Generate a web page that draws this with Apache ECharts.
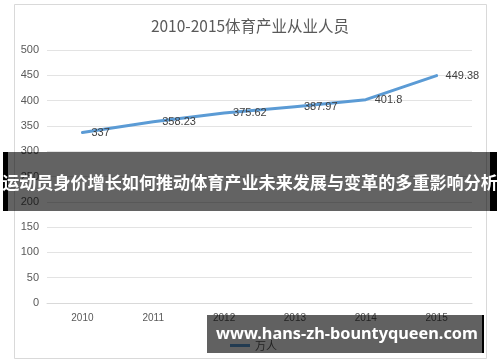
<!DOCTYPE html>
<html>
<head>
<meta charset="utf-8">
<script src="https://cdn.jsdelivr.net/npm/echarts@6/dist/echarts.min.js"></script>
<style>
  html, body { margin: 0; padding: 0; background: #ffffff; }
  #chart { width: 500px; height: 362px; }
</style>
</head>
<body>
<div id="chart"></div>
<script>
// Sports industry employment, 2010-2015 (unit: 万人)
const titleText = '2010-2015体育产业从业人员';
const years = ['2010', '2011', '2012', '2013', '2014', '2015'];
const employees = [337, 358.23, 375.62, 387.97, 401.8, 449.38];
const seriesName = '万人';
const bannerText = '运动员身价增长如何推动体育产业未来发展与变革的多重影响分析';
const siteText = 'www.hans-zh-bountyqueen.com';

const cjk = '"Noto Sans CJK SC", "Noto Sans", sans-serif';

const chart = echarts.init(document.getElementById('chart'), null, { renderer: 'canvas' });

chart.setOption({
  backgroundColor: '#ffffff',
  animation: false,
  title: {
    text: titleText,
    left: 'center',
    top: 13,
    textStyle: { fontFamily: cjk, fontSize: 15.5, fontWeight: 'normal', color: '#595959' }
  },
  legend: {
    left: 225,
    top: 335,
    itemWidth: 20,
    itemHeight: 3,
    icon: 'rect',
    textStyle: { fontFamily: cjk, fontSize: 11, color: '#595959' },
    data: [seriesName]
  },
  grid: { left: 47, right: 28, top: 50, bottom: 59 },
  xAxis: {
    type: 'category',
    data: years,
    boundaryGap: true,
    axisLine: { show: true, lineStyle: { color: '#d9d9d9' } },
    axisTick: { show: false },
    axisLabel: { color: '#595959', fontSize: 10, fontFamily: 'Liberation Sans, Arial, sans-serif', margin: 10 }
  },
  yAxis: {
    type: 'value',
    min: 0,
    max: 500,
    interval: 50,
    axisLine: { show: false },
    axisTick: { show: false },
    axisLabel: { color: '#595959', fontSize: 11, fontFamily: 'Liberation Sans, Arial, sans-serif', margin: 8 },
    splitLine: { lineStyle: { color: '#e3e3e3', width: 1 } }
  },
  series: [{
    name: seriesName,
    type: 'line',
    data: employees,
    showSymbol: true,
    symbol: 'circle',
    symbolSize: 0,
    lineStyle: { color: '#5b9bd5', width: 3, cap: 'round', join: 'round' },
    itemStyle: { color: '#5b9bd5' },
    label: {
      show: true,
      position: 'right',
      distance: 9,
      color: '#404040',
      fontSize: 11,
      fontFamily: 'Liberation Sans, Arial, sans-serif'
    }
  }],
  graphic: [
    // outer chart frame
    {
      type: 'rect', z: -1, silent: true,
      shape: { x: 14.5, y: 4.5, width: 472, height: 354 },
      style: { fill: 'none', stroke: '#d9d9d9', lineWidth: 1 }
    },
    // dark banner across the middle
    {
      type: 'rect', z: 100, silent: true,
      shape: { x: 3, y: 152, width: 494, height: 59 },
      style: { fill: 'rgba(0,0,0,0.61)' }
    },
    {
      type: 'rect', z: 101, silent: true,
      shape: { x: 3, y: 152, width: 5, height: 59 },
      style: { fill: '#000000' }
    },
    {
      type: 'rect', z: 101, silent: true,
      shape: { x: 490, y: 152, width: 7, height: 59 },
      style: { fill: '#000000' }
    },
    {
      type: 'text', z: 102, silent: true,
      x: 250, y: 182,
      style: {
        text: bannerText,
        fill: '#ffffff',
        font: 'bold 17.1px ' + cjk,
        align: 'center',
        verticalAlign: 'middle'
      }
    },
    // site box at lower right
    {
      type: 'rect', z: 100, silent: true,
      shape: { x: 207, y: 315, width: 275, height: 38 },
      style: { fill: 'rgba(0,0,0,0.62)' }
    },
    {
      type: 'rect', z: 101, silent: true,
      shape: { x: 482, y: 315, width: 2, height: 38 },
      style: { fill: '#000000' }
    },
    {
      type: 'text', z: 102, silent: true,
      x: 347, y: 334,
      style: {
        text: siteText,
        fill: '#ffffff',
        font: 'bold 16.3px "Noto Sans", "Open Sans", sans-serif',
        align: 'center',
        verticalAlign: 'middle'
      }
    }
  ]
});
</script>
</body>
</html>
